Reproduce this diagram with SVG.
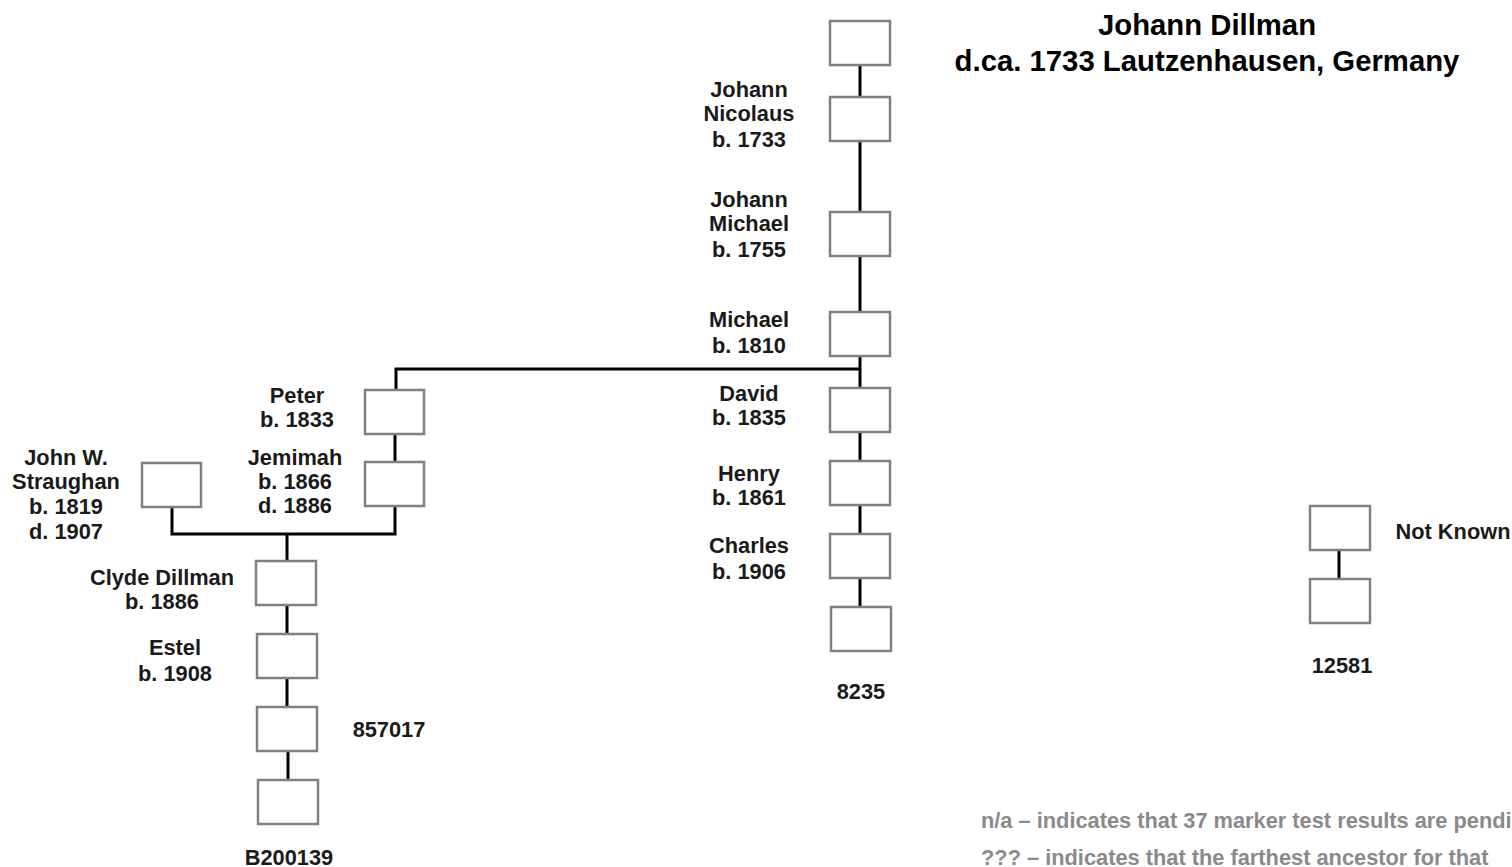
<svg xmlns="http://www.w3.org/2000/svg" width="1512" height="867" viewBox="0 0 1512 867">
<style>
.b{fill:#fff;stroke:#808080;stroke-width:2.5}
.c{stroke:#000;stroke-width:3;fill:none}
text{font-family:"Liberation Sans",Arial,sans-serif;font-weight:bold;font-size:21.8px;fill:#1a1a1a;text-anchor:middle}
.t{font-size:29.3px;fill:#000}
.f{fill:#8a8a8a;font-size:21.8px;text-anchor:start}
</style>
<rect width="1512" height="867" fill="#fff"/>
<g id="connectors">
<path class="c" d="M860 65V97M860 141V212M860 256V312M860 356V388M860 432V461M860 505V534M860 578V607"/>
<path class="c" d="M396 390V369H861"/>
<path class="c" d="M395 434V462"/>
<path class="c" d="M172 507V534H395V506M287 534V561"/>
<path class="c" d="M287 605V634M287 678V707M288 751V780"/>
<path class="c" d="M1339 550V579"/>
</g>
<g id="title"><text class="t" x="1207" y="35">Johann Dillman</text><text class="t" x="1207" y="71">d.ca. 1733 Lautzenhausen, Germany</text></g>
<g id="n1"><rect class="b" x="830" y="21" width="60" height="44"/></g>
<g id="n2"><rect class="b" x="830" y="97" width="60" height="44"/><text x="749" y="97">Johann</text><text x="749" y="121">Nicolaus</text><text x="749" y="147">b. 1733</text></g>
<g id="n3"><rect class="b" x="830" y="212" width="60" height="44"/><text x="749" y="207">Johann</text><text x="749" y="231">Michael</text><text x="749" y="257">b. 1755</text></g>
<g id="n4"><rect class="b" x="830" y="312" width="60" height="44"/><text x="749" y="327">Michael</text><text x="749" y="353">b. 1810</text></g>
<g id="n5"><rect class="b" x="830" y="388" width="60" height="44"/><text x="749" y="401">David</text><text x="749" y="425">b. 1835</text></g>
<g id="n6"><rect class="b" x="830" y="461" width="60" height="44"/><text x="749" y="481">Henry</text><text x="749" y="505">b. 1861</text></g>
<g id="n7"><rect class="b" x="830" y="534" width="60" height="44"/><text x="749" y="553">Charles</text><text x="749" y="579">b. 1906</text></g>
<g id="n8"><rect class="b" x="831" y="607" width="60" height="44"/><text x="861" y="699">8235</text></g>
<g id="peter"><rect class="b" x="365" y="390" width="59" height="44"/><text x="297" y="403">Peter</text><text x="297" y="427">b. 1833</text></g>
<g id="jemimah"><rect class="b" x="365" y="462" width="59" height="44"/><text x="295" y="465">Jemimah</text><text x="295" y="489">b. 1866</text><text x="295" y="513">d. 1886</text></g>
<g id="john"><rect class="b" x="142" y="463" width="59" height="44"/><text x="66" y="465">John W.</text><text x="66" y="489">Straughan</text><text x="66" y="514">b. 1819</text><text x="66" y="539">d. 1907</text></g>
<g id="clyde"><rect class="b" x="256" y="561" width="60" height="44"/><text x="162" y="585">Clyde Dillman</text><text x="162" y="609">b. 1886</text></g>
<g id="estel"><rect class="b" x="257" y="634" width="60" height="44"/><text x="175" y="655">Estel</text><text x="175" y="681">b. 1908</text></g>
<g id="k857017"><rect class="b" x="257" y="707" width="60" height="44"/><text x="389" y="737">857017</text></g>
<g id="kB200139"><rect class="b" x="258" y="780" width="60" height="44"/><text x="289" y="865">B200139</text></g>
<g id="nk"><rect class="b" x="1310" y="506" width="60" height="44"/><text x="1453" y="539">Not Known</text></g>
<g id="k12581"><rect class="b" x="1310" y="579" width="60" height="44"/><text x="1342" y="673">12581</text></g>
<g id="legend"><text class="f" x="981" y="828">n/a – indicates that 37 marker test results are pending</text><text class="f" x="981" y="865">??? – indicates that the farthest ancestor for that</text></g>
</svg>
